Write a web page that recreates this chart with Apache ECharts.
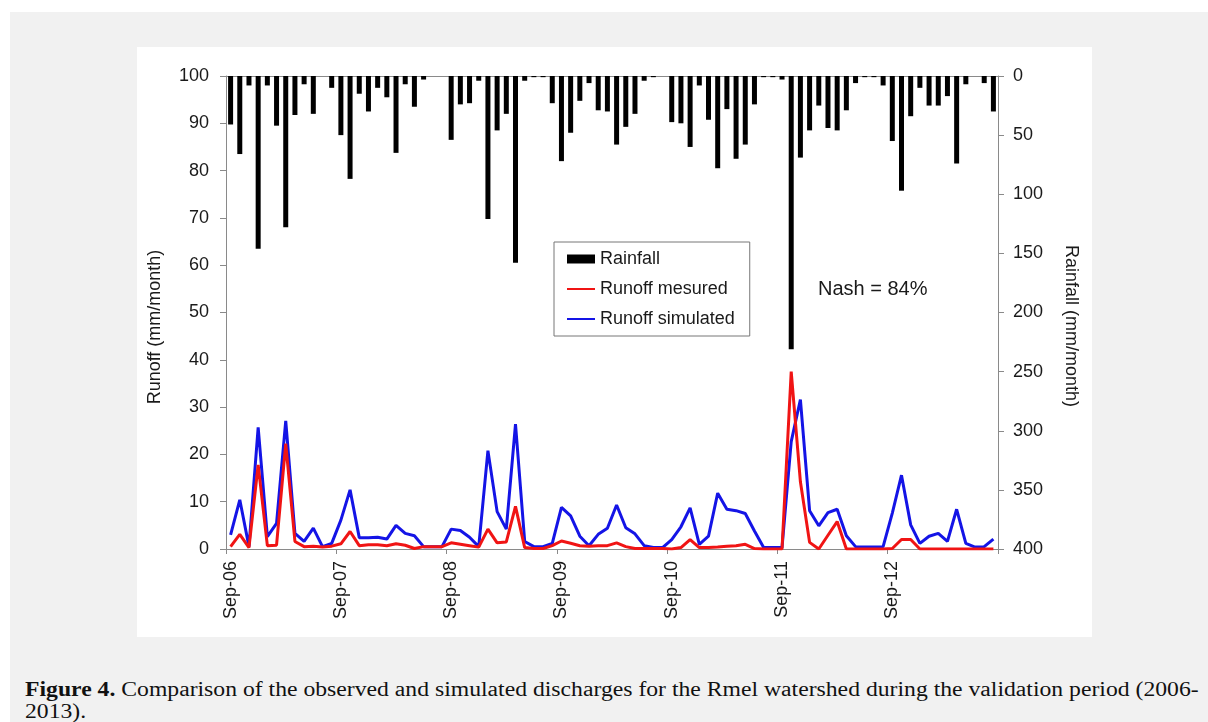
<!DOCTYPE html>
<html>
<head>
<meta charset="utf-8">
<script src="https://cdn.jsdelivr.net/npm/echarts@6/dist/echarts.min.js"></script>
<style>
  html, body { margin: 0; padding: 0; width: 1208px; height: 722px; background: #fff; overflow: hidden; }
  .page { position: absolute; left: 10px; top: 12px; width: 1198px; height: 710px; background: #f1f1f1; }
  #chart { position: absolute; left: 137px; top: 47px; width: 955px; height: 590px; background: #fff; }
  .caption {
    position: absolute; left: 25px; top: 678px;
    font-family: "Liberation Serif", "Times New Roman", serif;
    font-size: 20px; line-height: 22px; color: #111; white-space: nowrap;
    transform: scaleX(1.184); transform-origin: 0 0;
  }
</style>
</head>
<body>
<div class="page"></div>
<div id="chart"></div>
<div class="caption"><b>Figure 4.</b> Comparison of the observed and simulated discharges for the Rmel watershed during the validation period (2006-<br>2013).</div>

<script>
// months Sep-06 .. Aug-13
const months = [
  "Sep-06", "Oct-06", "Nov-06", "Dec-06", "Jan-07", "Feb-07", "Mar-07", "Apr-07", "May-07", "Jun-07", "Jul-07", "Aug-07",
  "Sep-07", "Oct-07", "Nov-07", "Dec-07", "Jan-08", "Feb-08", "Mar-08", "Apr-08", "May-08", "Jun-08", "Jul-08", "Aug-08",
  "Sep-08", "Oct-08", "Nov-08", "Dec-08", "Jan-09", "Feb-09", "Mar-09", "Apr-09", "May-09", "Jun-09", "Jul-09", "Aug-09",
  "Sep-09", "Oct-09", "Nov-09", "Dec-09", "Jan-10", "Feb-10", "Mar-10", "Apr-10", "May-10", "Jun-10", "Jul-10", "Aug-10",
  "Sep-10", "Oct-10", "Nov-10", "Dec-10", "Jan-11", "Feb-11", "Mar-11", "Apr-11", "May-11", "Jun-11", "Jul-11", "Aug-11",
  "Sep-11", "Oct-11", "Nov-11", "Dec-11", "Jan-12", "Feb-12", "Mar-12", "Apr-12", "May-12", "Jun-12", "Jul-12", "Aug-12",
  "Sep-12", "Oct-12", "Nov-12", "Dec-12", "Jan-13", "Feb-13", "Mar-13", "Apr-13", "May-13", "Jun-13", "Jul-13", "Aug-13"
];

// rainfall (mm/month), right axis, inverted
const rainfall = [
  41, 66, 8, 146, 8, 42, 128, 33, 7, 32, 0, 10,
  50, 87, 15, 30, 10, 18, 65, 7, 26, 3, 0, 0,
  54, 24, 23, 4, 121, 46, 32, 158, 4, 1, 1, 23,
  72, 48, 21, 6, 29, 30, 58, 43, 32, 4, 1, 0,
  39, 40, 60, 8, 37, 78, 28, 70, 58, 24, 1, 1,
  3, 231, 69, 46, 25, 44, 46, 29, 6, 1, 1, 8,
  55, 97, 34, 10, 25, 25, 17, 74, 7, 0, 6, 30
];

// runoff (mm/month), left axis
const runoffMeasured = [
  0.5, 3.1, 0.3, 17.8, 0.7, 0.8, 22.3, 1.6, 0.5, 0.6, 0.4, 0.6,
  1.1, 3.7, 0.7, 0.9, 0.9, 0.7, 1.1, 0.8, 0.1, 0.5, 0.5, 0.5,
  1.3, 1.0, 0.7, 0.4, 4.2, 1.3, 1.5, 9.0, 0.3, 0.1, 0.1, 0.7,
  1.7, 1.2, 0.7, 0.6, 0.7, 0.7, 1.3, 0.5, 0.1, 0.1, 0.1, 0.1,
  0, 0.3, 2.0, 0.3, 0.3, 0.4, 0.6, 0.7, 1.0, 0.1, 0, 0,
  0, 37.5, 14.2, 1.4, 0, 2.9, 5.8, 0, 0, 0, 0, 0,
  0.1, 2.0, 2.0, 0, 0, 0, 0, 0, 0, 0, 0, 0
];

const runoffSimulated = [
  3.0, 10.4, 0.5, 25.7, 2.6, 5.4, 27.1, 3.3, 1.6, 4.4, 0.5, 1.2,
  6.1, 12.5, 2.4, 2.4, 2.5, 2.1, 5.0, 3.3, 2.8, 0.5, 0.5, 0.5,
  4.2, 3.9, 2.5, 0.5, 20.8, 7.9, 4.2, 26.4, 1.6, 0.5, 0.5, 1.2,
  8.8, 7.0, 2.7, 0.7, 3.1, 4.4, 9.3, 4.5, 3.2, 0.7, 0.3, 0.3,
  2.0, 4.7, 8.7, 1.0, 2.7, 11.8, 8.4, 8.1, 7.5, 3.8, 0.3, 0.3,
  0.3, 22.7, 31.6, 8.1, 4.9, 7.7, 8.4, 2.8, 0.5, 0.4, 0.4, 0.5,
  7.6, 15.6, 5.1, 1.2, 2.7, 3.3, 1.6, 8.4, 1.2, 0.4, 0.5, 2.1
];

const fontFamily = "'Liberation Sans', Arial, sans-serif";
const axisColor = "#8a8a8a";
const textColor = "#1a1a1a";
const red = "#f01414";
const blue = "#1414e6";

let chart = echarts.init(document.getElementById("chart"));

let option = {
  animation: false,
  textStyle: { fontFamily: fontFamily },
  grid: { left: 89, right: 94, top: 29, bottom: 88 },
  legend: {
    orient: "vertical",
    left: 417,
    top: 195,
    itemWidth: 28,
    itemHeight: 9,
    itemGap: 12,
    padding: [8, 15, 8, 12],
    borderColor: "#777",
    borderWidth: 1,
    selectedMode: false,
    textStyle: { fontSize: 18, color: textColor, fontFamily: fontFamily },
    data: [
      { name: "Rainfall", icon: "rect" },
      // line-only icons, no symbol dot
      { name: "Runoff mesured", itemStyle: { opacity: 0 }, lineStyle: { width: 2 } },
      { name: "Runoff simulated", itemStyle: { opacity: 0 }, lineStyle: { width: 2 } }
    ]
  },
  xAxis: [
    {
      type: "category",
      data: months,
      boundaryGap: true,
      position: "bottom",
      axisLine: { lineStyle: { color: axisColor, width: 1 } },
      axisTick: { show: true, interval: 11, length: 5, lineStyle: { color: axisColor } },
      axisLabel: { interval: 11, rotate: 90, margin: 12, fontSize: 18, color: textColor }
    },
    {
      type: "category",
      data: months,
      position: "top",
      axisLine: { lineStyle: { color: axisColor, width: 1 } },
      axisTick: { show: false },
      axisLabel: { show: false }
    }
  ],
  yAxis: [
    {
      type: "value",
      min: 0,
      max: 100,
      interval: 10,
      position: "left",
      axisLine: { show: true, lineStyle: { color: axisColor } },
      axisTick: { show: true, length: 6, lineStyle: { color: axisColor } },
      axisLabel: { margin: 17, fontSize: 18, color: textColor },
      splitLine: { show: false }
    },
    {
      type: "value",
      min: 0,
      max: 400,
      interval: 50,
      inverse: true,
      position: "right",
      axisLine: { show: true, lineStyle: { color: axisColor } },
      axisTick: { show: true, length: 6, lineStyle: { color: axisColor } },
      axisLabel: { margin: 15, fontSize: 18, color: textColor },
      splitLine: { show: false }
    }
  ],
  series: [
    {
      name: "Rainfall",
      type: "bar",
      xAxisIndex: 0,
      yAxisIndex: 1,
      barWidth: 5,
      itemStyle: { color: "#000" },
      data: rainfall
    },
    {
      name: "Runoff simulated",
      type: "line",
      xAxisIndex: 0,
      yAxisIndex: 0,
      symbol: "none",
      lineStyle: { color: blue, width: 3 },
      itemStyle: { color: blue },
      data: runoffSimulated
    },
    {
      name: "Runoff mesured",
      type: "line",
      xAxisIndex: 0,
      yAxisIndex: 0,
      symbol: "none",
      lineStyle: { color: red, width: 3 },
      itemStyle: { color: red },
      data: runoffMeasured
    }
  ],
  graphic: [
    {
      type: "text",
      x: 18,
      y: 280,
      rotation: Math.PI / 2,
      style: { text: "Runoff (mm/month)", align: "center", verticalAlign: "middle", font: "18px " + fontFamily, fill: textColor }
    },
    {
      type: "text",
      x: 934,
      y: 279,
      rotation: -Math.PI / 2,
      style: { text: "Rainfall (mm/month)", align: "center", verticalAlign: "middle", font: "18px " + fontFamily, fill: textColor }
    },
    {
      type: "text",
      x: 681,
      y: 242,
      style: { text: "Nash = 84%", align: "left", verticalAlign: "middle", font: "20px " + fontFamily, fill: textColor }
    }
  ]
};

chart.setOption(option);
</script>
</body>
</html>
